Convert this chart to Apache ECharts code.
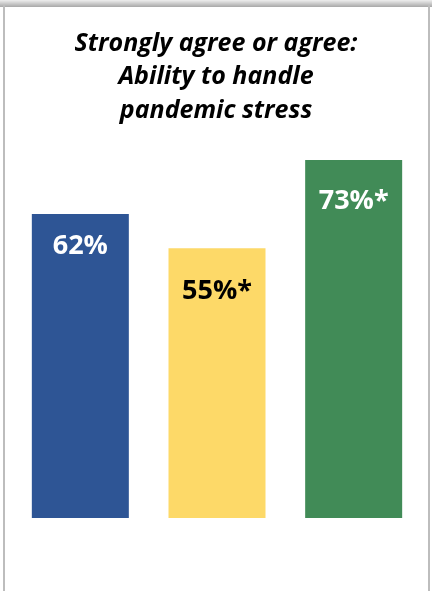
<!DOCTYPE html>
<html>
<head>
<meta charset="utf-8">
<script src="https://cdn.jsdelivr.net/npm/echarts@6/dist/echarts.min.js"></script>
<style>html,body{margin:0;padding:0;background:#fff}#c{width:432px;height:591px}</style>
</head>
<body>
<div id="c"></div>
<script>
const titleText = "Strongly agree or agree:\nAbility to handle\npandemic stress";
const categories = ["Group 1", "Group 2", "Group 3"];
const values = [62, 55, 73];
const significant = [false, true, true];
const barColors = ["#2E5595", "#FDD968", "#418B57"];
const labelColors = ["#ffffff", "#000000", "#ffffff"];
const labelOffsets = [19, 30, 28];

const chart = echarts.init(document.getElementById('c'), null, {renderer: 'canvas'});
const font = '"Open Sans", sans-serif';
chart.setOption({
  animation: false,
  backgroundColor: '#ffffff',
  graphic: [
    {type: 'rect', shape: {x: 0, y: 0, width: 432, height: 7}, silent: true,
      style: {fill: new echarts.graphic.LinearGradient(0, 0, 0, 1, [
        {offset: 0, color: '#eeeeee'}, {offset: 0.6, color: '#c4c4c4'}, {offset: 1, color: '#a8a8a8'}])}},
    {type: 'rect', shape: {x: 3, y: 5, width: 2, height: 586}, silent: true, style: {fill: '#bdbdbd'}},
    {type: 'rect', shape: {x: 428, y: 5, width: 2, height: 586}, silent: true, style: {fill: '#bdbdbd'}}
  ],
  title: {
    text: titleText,
    left: 'center',
    top: 22,
    textStyle: {fontFamily: font, fontSize: 25, fontWeight: 'bold', fontStyle: 'italic', color: '#000', lineHeight: 33.5}
  },
  grid: {left: 12, right: 10, top: 27.5, bottom: 73},
  xAxis: {type: 'category', data: categories, show: false},
  yAxis: {type: 'value', min: 0, max: 100, show: false},
  series: [{
    type: 'bar',
    barWidth: 97,
    data: values.map((v, i) => ({
      value: v,
      itemStyle: {color: barColors[i]},
      label: {
        show: true,
        position: 'insideTop',
        distance: labelOffsets[i],
        color: labelColors[i],
        fontFamily: font,
        fontSize: 27,
        fontWeight: 'bold',
        formatter: () => v + '%' + (significant[i] ? '*' : '')
      }
    }))
  }]
});
</script>
</body>
</html>
